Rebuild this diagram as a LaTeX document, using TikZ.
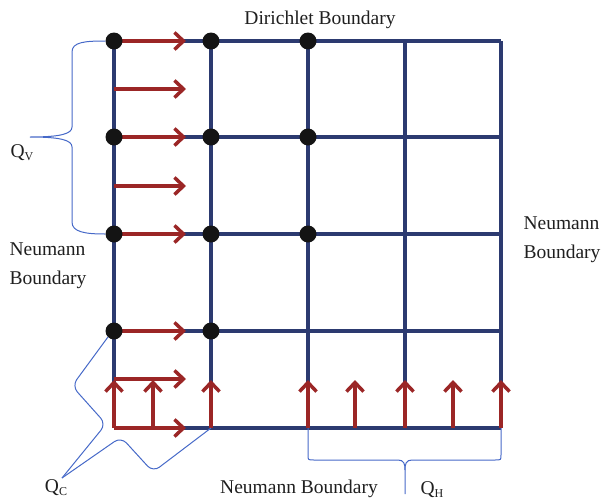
\documentclass[tikz,border=0pt]{standalone}
\usepackage{fontspec}
\setmainfont{Liberation Serif}
\usetikzlibrary{arrows.meta}
\definecolor{gridblue}{RGB}{44,58,112}
\definecolor{arrred}{RGB}{155,38,38}
\definecolor{braceblue}{RGB}{70,105,200}
\newcommand\lowsub[1]{\raisebox{-0.3ex}{\fontsize{12}{12}\selectfont #1}}
\begin{document}
\begin{tikzpicture}[x=1pt,y=-1pt,
  gridline/.style={gridblue,line width=3.5pt},
  flow/.style={arrred,line width=3.5pt,-{Straight Barb[length=9pt,width=17pt]}},
  dot/.style={circle,fill=black!92,inner sep=0pt,minimum size=17pt},
  brace/.style={braceblue,line width=1pt},
  lbl/.style={font=\fontsize{19.5}{29}\selectfont,text=black!88,inner sep=0pt}]
\useasboundingbox (0,0) rectangle (602,501);
% grid coordinates
\foreach \i/\x in {0/114,1/211,2/308,3/405,4/501}
  \foreach \j/\y in {0/41,1/137,2/234,3/331,4/428}
    \coordinate (p\i\j) at (\x,\y);
% grid lines
\foreach \j in {0,...,4} \draw[gridline] (p0\j) -- (p4\j);
\foreach \i in {0,...,4} \draw[gridline] (p\i0) -- (p\i4);
% horizontal flow arrows
\foreach \k/\y in {a/41,b/89,c/137,d/186,e/234,f/331,g/379,h/428}{
  \coordinate (hs\k) at (114,\y);
  \coordinate (he\k) at (186,\y);
  \draw[flow] (hs\k) -- (he\k);
}
% vertical flow arrows
\foreach \k/\x in {a/114,b/153,c/211,d/308,e/355,f/405,g/453,h/501}{
  \coordinate (vs\k) at (\x,428);
  \coordinate (ve\k) at (\x,380);
  \draw[flow] (vs\k) -- (ve\k);
}
% dots
\foreach \n/\i/\j in {d00/0/0,d10/1/0,d20/2/0,d01/0/1,d11/1/1,d21/2/1,d02/0/2,d12/1/2,d22/2/2,d03/0/3,d13/1/3}
  \node[dot] (\n) at (p\i\j) {};
% labels
\node[lbl] (dir) at (320,20) {Dirichlet Boundary};
\node[lbl,align=left] (nl) at (48,266) {Neumann\\Boundary};
\node[lbl,align=left] (nr) at (562,240) {Neumann\\Boundary};
\node[lbl] (nb) at (299,489) {Neumann Boundary};
\node[lbl] (qv) at (22,153) {Q\lowsub{V}};
\node[lbl] (qc) at (56,488) {Q\lowsub{C}};
\node[lbl] (qh) at (432,490) {Q\lowsub{H}};
% braces
\coordinate (qvtip) at (30,137);
\draw[brace] (d00.west) .. controls (85,41) and (72,42) .. (72,52) -- (72,127)
  .. controls (72,134) and (60,137) .. (qvtip)
  .. controls (60,137) and (72,140) .. (72,147) -- (72,222)
  .. controls (72,232) and (85,234) .. (d02.west);
\coordinate (qctip) at (62,478);
\draw[brace,rounded corners=8pt] (d03.south west) -- (72,386) -- (106,424) -- (qctip);
\draw[brace,rounded corners=8pt] (p14) -- (153,472) -- (121,437) -- (qctip);
\coordinate (qhtip) at (405,494);
\draw[brace] (p24) -- (308,455) .. controls (308,460) .. (314,460) -- (398,460)
  .. controls (404,460) and (405,464) .. (405,470) -- (qhtip);
\draw[brace] (405,470) .. controls (405,464) and (406,460) .. (412,460) -- (495,460)
  .. controls (501,460) .. (501,455) -- (p44);
\end{tikzpicture}
\end{document}
